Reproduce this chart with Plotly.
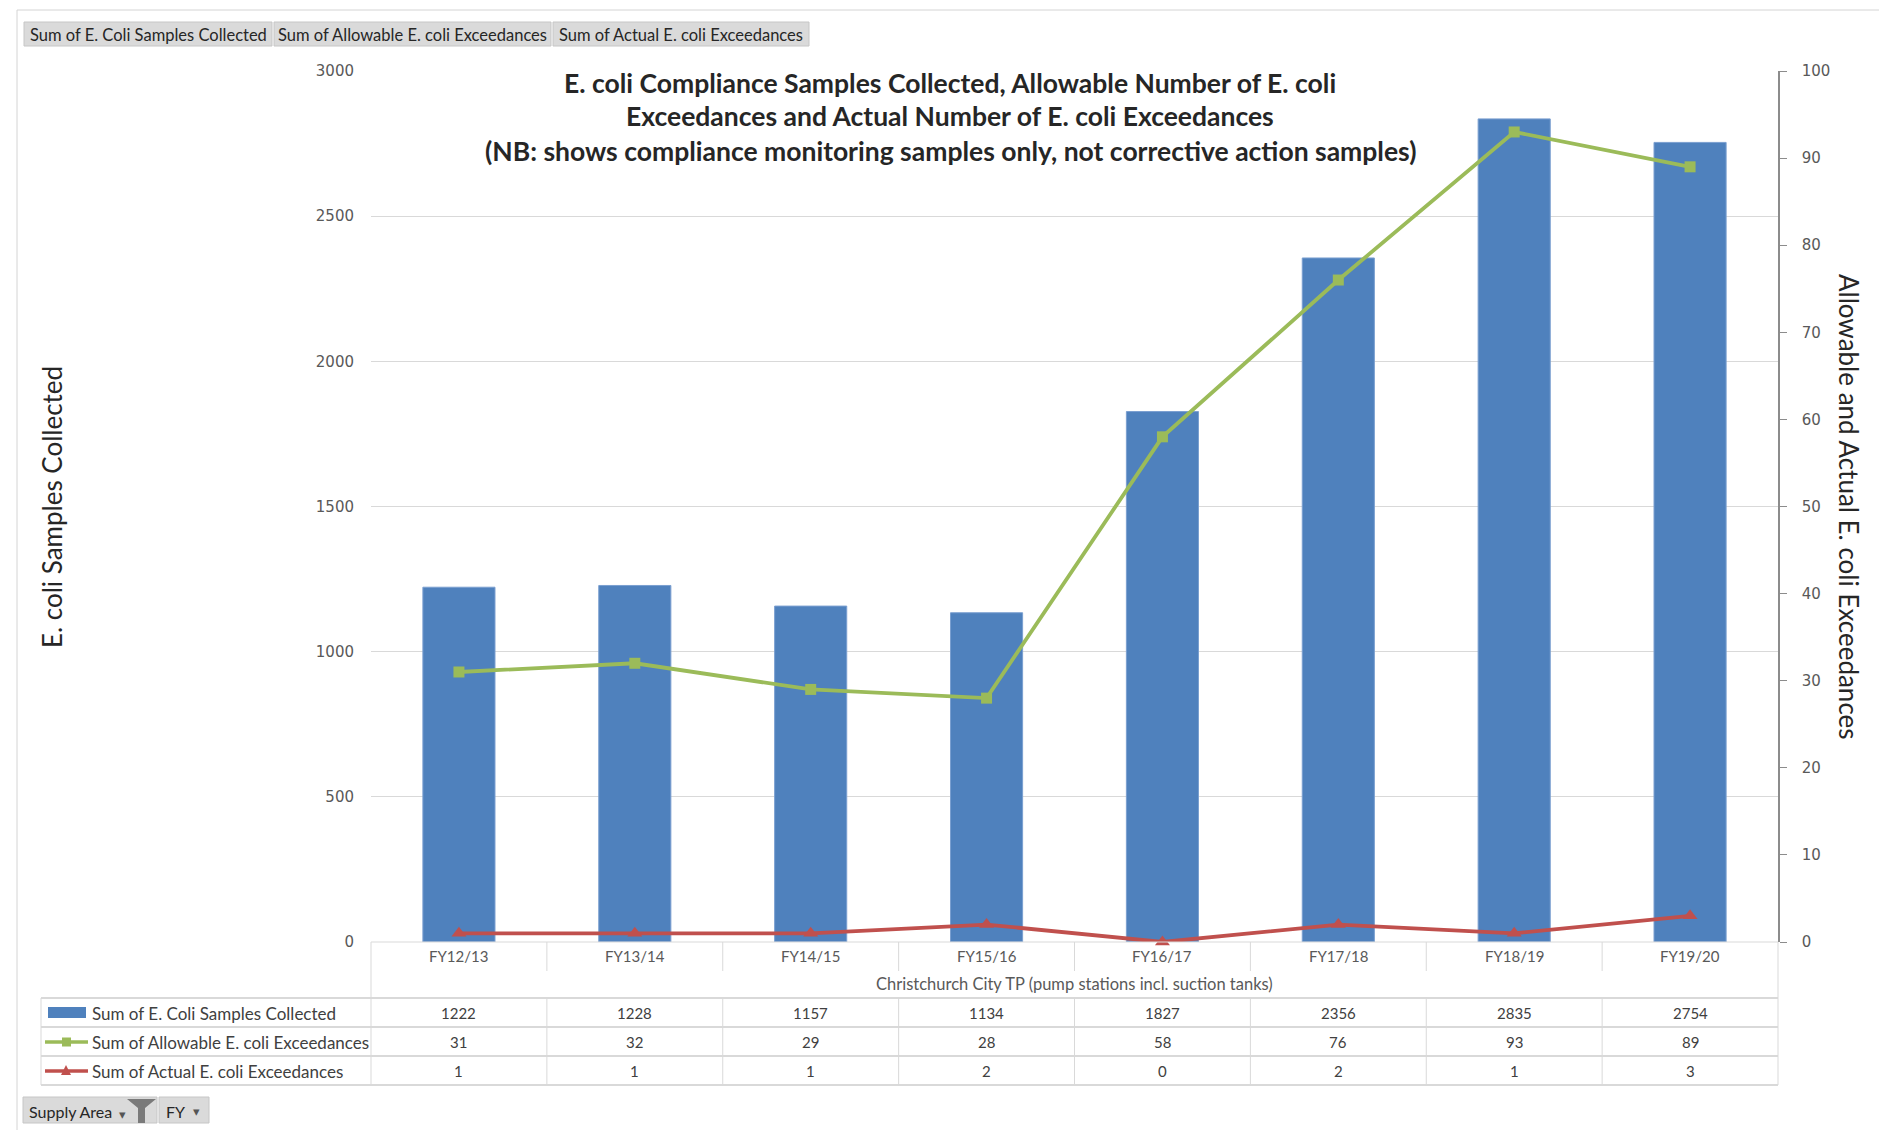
import plotly.graph_objects as go

# ---------------- data ----------------
categories = ["FY12/13", "FY13/14", "FY14/15", "FY15/16", "FY16/17", "FY17/18", "FY18/19", "FY19/20"]
samples_collected = [1222, 1228, 1157, 1134, 1827, 2356, 2835, 2754]
allowable_exceedances = [31, 32, 29, 28, 58, 76, 93, 89]
actual_exceedances = [1, 1, 1, 2, 0, 2, 1, 3]
series_names = ["Sum of E. Coli Samples Collected",
                "Sum of Allowable E. coli Exceedances",
                "Sum of Actual E. coli Exceedances"]
group_label = "Christchurch City TP (pump stations incl. suction tanks)"
title_lines = ["E. coli Compliance Samples Collected, Allowable Number of E. coli",
               "Exceedances and Actual Number of E. coli Exceedances",
               "(NB: shows compliance monitoring samples only, not corrective action samples)"]
left_axis_title = "E. coli Samples Collected"
right_axis_title = "Allowable and Actual E. coli Exceedances"
top_buttons = ["Sum of E. Coli Samples Collected", "Sum of Allowable E. coli Exceedances",
               "Sum of Actual E. coli Exceedances"]
left_ticks = [0, 500, 1000, 1500, 2000, 2500, 3000]
right_ticks = [0, 10, 20, 30, 40, 50, 60, 70, 80, 90, 100]

# ---------------- geometry / styles ----------------
W, H = 1879, 1130
L, R, T, B = 371, 101, 71, 188
PW, PH = W - L - R, H - T - B
BLUE, GREEN, RED = "#4F81BD", "#9BBB59", "#C0504D"
GRID = "#D9D9D9"
TXT = "#404040"
FONT = "Lato"


def xp(px):
    return (px - L) / PW


def yp(py):
    return (H - B - py) / PH


fig = go.Figure()
fig.add_trace(go.Bar(x=categories, y=samples_collected, name=series_names[0],
                     marker=dict(color=BLUE, line=dict(color="#7A9FD0", width=1)),
                     width=0.41, yaxis="y"))
fig.add_trace(go.Scatter(x=categories, y=allowable_exceedances, name=series_names[1],
                         mode="lines+markers", yaxis="y2", cliponaxis=False,
                         line=dict(color=GREEN, width=3.8),
                         marker=dict(symbol="square", size=11, color=GREEN)))
fig.add_trace(go.Scatter(x=categories, y=actual_exceedances, name=series_names[2],
                         mode="lines+markers", yaxis="y2", cliponaxis=False,
                         line=dict(color=RED, width=3.8),
                         marker=dict(symbol="triangle-up", size=13, color=RED)))

shapes = []
annotations = []


def hline(x0, x1, y, color=GRID, w=1):
    shapes.append(dict(type="line", xref="paper", yref="paper", x0=xp(x0), x1=xp(x1),
                       y0=yp(y), y1=yp(y), line=dict(color=color, width=w)))


def vline(x, y0, y1, color=GRID, w=1):
    shapes.append(dict(type="line", xref="paper", yref="paper", x0=xp(x), x1=xp(x),
                       y0=yp(y0), y1=yp(y1), line=dict(color=color, width=w)))


def rect(x0, y0, x1, y1, fill, line="#C6C6C6"):
    shapes.append(dict(type="rect", xref="paper", yref="paper", x0=xp(x0), x1=xp(x1),
                       y0=yp(y0), y1=yp(y1), fillcolor=fill, line=dict(color=line, width=1),
                       layer="below"))


def text(x, y, s, size=14, color=TXT, xanchor="center", family=FONT, xref="paper", angle=0):
    annotations.append(dict(x=(xp(x) if xref == "paper" else x), y=yp(y), xref=xref, yref="paper",
                            text=s, showarrow=False, xanchor=xanchor, yanchor="middle",
                            textangle=angle, font=dict(family=family, size=size, color=color)))


# outer frame
hline(17, W, 10, color="#D4D4D4")
vline(17, 10, H, color="#D4D4D4")

# top field buttons
btn_x = [(24, 272), (274, 551), (553, 809)]
for (a, b), lab in zip(btn_x, top_buttons):
    rect(a, 22, b, 46, "#DADADA")
    text((a + b) / 2, 34.5, lab, size=16.5, color="#262626")

# bottom field buttons
rect(23, 1097, 157, 1123, "#DADADA")
rect(159, 1097, 209, 1123, "#DADADA")
text(27, 1111, "Supply Area", size=16, color="#262626", xanchor="left")
text(123, 1114, "▾", size=13, color="#555555")
shapes.append(dict(type="path", xref="paper", yref="paper",
                   path=f"M {xp(127)} {yp(1099)} L {xp(156)} {yp(1099)} L {xp(145)} {yp(1108)} "
                        f"L {xp(145)} {yp(1123)} L {xp(138)} {yp(1123)} L {xp(138)} {yp(1108)} Z",
                   fillcolor="#7A7A7A", line=dict(width=0)))
text(164, 1111, "FY", size=16, color="#262626", xanchor="left")
text(196, 1111, "▾", size=13, color="#555555")

# title
for yy, line in zip([83, 116, 151], title_lines):
    text(950, yy, f"<b>{line}</b>", size=26.5, color="#262626")

# axis titles
text(52, 507, left_axis_title, size=26, color="#262626", angle=-90)
text(1849, 507, right_axis_title, size=26, color="#262626", angle=90)

# ---------------- data table ----------------
n = len(categories)
colw = PW / n
xb = [L + k * colw for k in range(n + 1)]
TBL_L = 41
hline(L, W - R, 942)
hline(TBL_L, W - R, 998, w=2)
hline(TBL_L, W - R, 1027, w=2)
hline(TBL_L, W - R, 1056, w=2)
hline(TBL_L, W - R, 1085, w=2)
vline(TBL_L, 998, 1085)
vline(xb[0], 942, 1085)
vline(xb[-1], 942, 1085)
for k in range(1, n):
    vline(xb[k], 942, 971)
    vline(xb[k], 998, 1085)

for i, c in enumerate(categories):
    text(i, 956, c, size=15, color="#595959", xref="x")
text(L + PW / 2, 984, group_label, size=16.5, color="#595959")

row_y = [1013, 1042, 1071]
row_vals = [samples_collected, allowable_exceedances, actual_exceedances]
for yy, name, vals in zip(row_y, series_names, row_vals):
    text(90, yy, name, size=17, color=TXT, xanchor="left")
    for i, v in enumerate(vals):
        text(i, yy, str(v), size=15, color=TXT, xref="x")

# legend keys
shapes.append(dict(type="rect", xref="paper", yref="paper", x0=xp(48), x1=xp(86),
                   y0=yp(1018), y1=yp(1007), fillcolor=BLUE, line=dict(width=0)))
hline(45, 88, 1042, color=GREEN, w=3.5)
shapes.append(dict(type="rect", xref="paper", yref="paper", x0=xp(62), x1=xp(71),
                   y0=yp(1046.5), y1=yp(1037.5), fillcolor=GREEN, line=dict(width=0)))
hline(45, 88, 1071, color=RED, w=3.5)
shapes.append(dict(type="path", xref="paper", yref="paper",
                   path=f"M {xp(61)} {yp(1075)} L {xp(71)} {yp(1075)} L {xp(66)} {yp(1065)} Z",
                   fillcolor=RED, line=dict(width=0)))

fig.update_layout(
    width=W, height=H,
    margin=dict(l=L, r=R, t=T, b=B, pad=0),
    paper_bgcolor="white", plot_bgcolor="white",
    showlegend=False, bargap=0.59,
    font=dict(family=FONT, color=TXT),
    xaxis=dict(type="category", range=[-0.5, n - 0.5], showticklabels=False,
               showgrid=False, zeroline=False, showline=False, ticks=""),
    yaxis=dict(range=[0, 3000], tickvals=left_ticks, showgrid=True, gridcolor=GRID,
               gridwidth=1, zeroline=False, showline=False, ticks="",
               ticklabelstandoff=16,
               tickfont=dict(family="DejaVu Sans", size=15, color="#595959")),
    yaxis2=dict(range=[0, 100], tickvals=right_ticks, overlaying="y", side="right",
                showgrid=False, zeroline=False, showline=True, linecolor="#8C8C8C",
                linewidth=1.5, ticks="outside", ticklen=7, tickcolor="#8C8C8C",
                ticklabelstandoff=12,
                tickfont=dict(family="DejaVu Sans", size=15, color="#595959")),
    shapes=shapes, annotations=annotations,
)

fig.write_html("out.html")
